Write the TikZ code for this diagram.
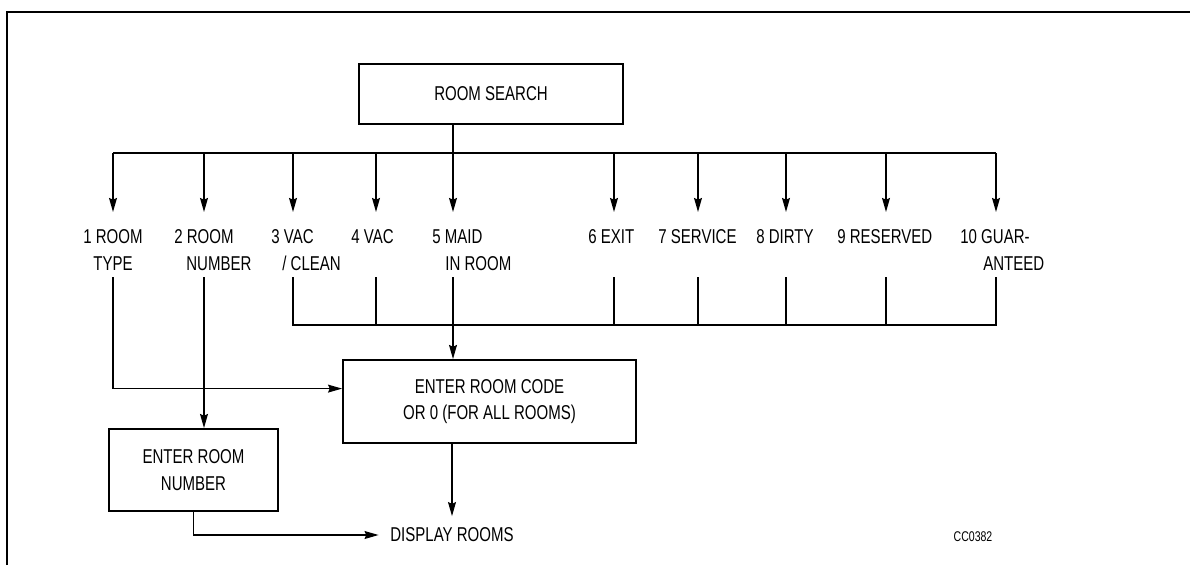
\documentclass[tikz,border=0pt]{standalone}
\usepackage{fontspec}
\setmainfont{Liberation Sans}[FakeStretch=0.75]
\usetikzlibrary{arrows.meta, calc}

\begin{document}
\begin{tikzpicture}[
  x=0.02cm, y=-0.02cm,
  box/.style={draw, line width=1.1pt, align=center, font=\fontsize{11.4}{15}\selectfont},
  opt/.style={anchor=base west, inner sep=0pt, align=left, font=\fontsize{11.4}{15.3}\selectfont},
  arr/.style={-{Stealth[length=8pt, width=4.5pt, inset=1pt]}, line width=0.85pt},
  wire/.style={line width=0.85pt}
]
  \useasboundingbox (0,0) rectangle (1190,565);
  \draw[line width=1pt] (7,565) -- (7,12) -- (1190,12);

  \node[box, minimum width=5.28cm, minimum height=1.2cm] (search) at (491,94) {ROOM SEARCH};

  % two-line labels sit on the baseline of their last line
  \node[opt, align=center] (o1) at (83,270) {1 ROOM\\TYPE};
  \node[opt] (o2) at (174,270) {2 ROOM\\\hspace*{0.24cm}NUMBER};
  \node[opt] (o3) at (271,270) {3 VAC\\\hspace*{0.22cm}/ CLEAN};
  \node[opt] (o4) at (351,243) {4 VAC};
  \node[opt] (o5) at (432,270) {5 MAID\\\hspace*{0.26cm}IN ROOM};
  \node[opt] (o6) at (588,243) {6 EXIT};
  \node[opt] (o7) at (658,243) {7 SERVICE};
  \node[opt] (o8) at (756,243) {8 DIRTY};
  \node[opt] (o9) at (837,243) {9 RESERVED};
  \node[opt] (o10) at (960,270) {10 GUAR-\\\hspace*{0.46cm}ANTEED};

  \foreach \x [count=\i] in {113,204,293,376,453,614,698,786,886,996} {
    \coordinate (b\i) at (\x,153);
    \coordinate (t\i) at (\x,212);
    \coordinate (u\i) at (\x,277);
    \coordinate (d\i) at (\x,325);
  }

  \draw[wire] (b1) -- (b10);
  \draw[wire] (search.south -| b5) -- (b5);
  \foreach \i in {1,...,10} \draw[arr] (b\i) -- (t\i);

  \draw[wire] (u3) -- (d3) -- (d10) -- (u10);
  \foreach \i in {4,6,7,8,9} \draw[wire] (u\i) -- (d\i);

  \node[box, minimum width=5.86cm, minimum height=1.66cm] (code) at (489.5,401.5) {ENTER ROOM CODE\\OR 0 (FOR ALL ROOMS)};
  \node[box, minimum width=3.38cm, minimum height=1.64cm] (num) at (193.5,470) {ENTER ROOM\\NUMBER};
  \node[inner sep=6.5pt, font=\fontsize{11.4}{15}\selectfont] (disp) at (452,535) {DISPLAY ROOMS};
  \node[inner sep=0pt, font=\fontsize{8}{9}\selectfont] (fig) at (973,537) {CC0382};

  \draw[arr] (u5) -- (u5 |- code.north);
  \draw[arr] (u1) |- (code.175);
  \draw[arr] (u2) -- (u2 |- num.north);
  \draw[arr] (code.south -| disp) -- (disp.north);
  \draw[arr] (num.south) |- (disp.west);
\end{tikzpicture}
\end{document}
